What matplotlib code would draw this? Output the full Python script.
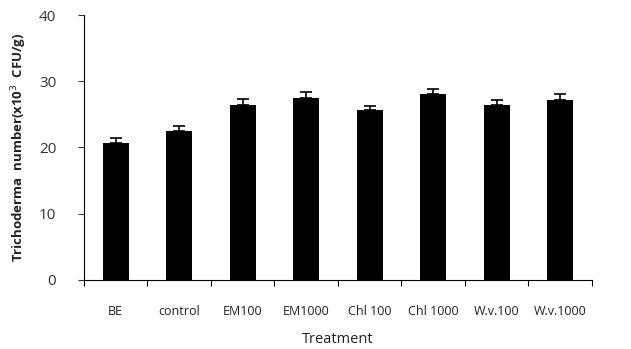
import numpy as np
import matplotlib.pyplot as plt

treatments = ['BE', 'control', 'EM100', 'EM1000', 'Chl 100', 'Chl 1000', 'W.v.100', 'W.v.1000']
counts = [20.6, 22.5, 26.4, 27.5, 25.6, 28.0, 26.4, 27.2]
errors = [0.9, 0.8, 0.9, 0.8, 0.7, 0.9, 0.7, 0.9]

plt.rcParams['font.family'] = ['Open Sans', 'DejaVu Sans']

fig = plt.figure(figsize=(6.31, 3.49), dpi=100)
ax = fig.add_axes([0.133, 0.198, 0.805, 0.759])

x = np.arange(len(treatments))
ax.bar(x, counts, width=0.41, color='black')
ax.errorbar(x, counts, yerr=[np.zeros(len(errors)), errors], fmt='none',
            ecolor='black', elinewidth=1.2, capsize=4, capthick=1.2)

ax.set_xlim(-0.5, len(treatments) - 0.5)
ax.set_ylim(0, 40)
ax.set_yticks(np.arange(0, 41, 10))
ax.set_xticks(np.arange(-0.5, len(treatments), 1.0))
ax.set_xticklabels([])
ax.set_xticks(x, minor=True)
ax.set_xticklabels(treatments, minor=True, fontsize=9, color='#222222')
ax.tick_params(axis='x', which='minor', length=0, pad=18)
ax.tick_params(axis='x', which='major', length=4, direction='out')
ax.tick_params(axis='y', length=4, labelsize=11, colors='#333333', pad=16)

ax.spines['top'].set_visible(False)
ax.spines['right'].set_visible(False)

ax.set_xlabel('Treatment', fontsize=10.5, labelpad=10, color='#222222')
ax.set_ylabel('Trichoderma  number(x10$^3$  CFU/g)', fontsize=9.5, fontweight='bold',
              labelpad=7, color='#222222')

fig.savefig('out.png', dpi=100)
